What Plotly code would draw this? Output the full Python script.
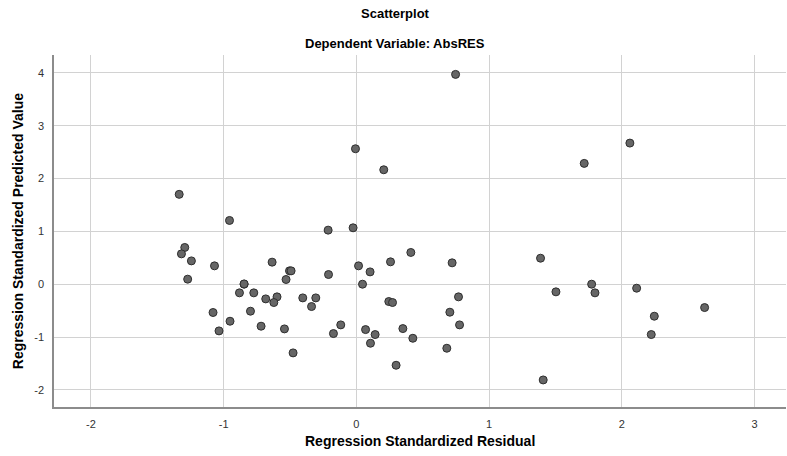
import plotly.graph_objects as go

# Regression Standardized Residual (x) and Regression Standardized Predicted Value (y)
residual = [
    -1.335, -0.956, -1.293, -1.318, -1.243, -1.271, -1.069, -0.846, -0.846, -0.881,
    -0.773, -0.635, -0.504, -0.492, -0.530, -0.683, -0.598, -0.622, -0.798, -1.080,
    -0.952, -1.035, -0.718, -0.542, -0.477, -0.213, -0.025, -0.404, -0.306, -0.338,
    -0.210, -0.118, -0.173, 0.016, 0.103, 0.046, 0.257, 0.410, 0.244, 0.272,
    0.069, 0.141, 0.106, 0.350, 0.425, 0.299, 0.721, 0.769, 0.704, 0.777,
    0.681, 1.387, 1.407, 0.747, -0.007, 0.206, 1.716, 2.060, 1.503, 1.772,
    1.797, 2.111, 2.623, 2.244, 2.221,
]
predicted = [
    1.700, 1.206, 0.695, 0.574, 0.441, 0.095, 0.347, 0.000, 0.005, -0.164,
    -0.164, 0.417, 0.252, 0.252, 0.089, -0.278, -0.240, -0.347, -0.511, -0.536,
    -0.701, -0.884, -0.795, -0.846, -1.300, 1.023, 1.067, -0.259, -0.259, -0.423,
    0.183, -0.770, -0.934, 0.347, 0.233, 0.000, 0.423, 0.600, -0.328, -0.347,
    -0.859, -0.953, -1.117, -0.840, -1.023, -1.534, 0.404, -0.240, -0.530, -0.770,
    -1.212, 0.492, -1.812, 3.970, 2.563, 2.165, 2.286, 2.670, -0.145, 0.000,
    -0.164, -0.076, -0.442, -0.606, -0.953,
]
x_ticks = [-2, -1, 0, 1, 2, 3]
x_tick_labels = ["-2", "-1", "0", "1", "2", "3"]
y_ticks = [-2, -1, 0, 1, 2, 3, 4]
y_tick_labels = ["-2", "-1", "0", "1", "2", "3", "4"]

FONT = "Arial, Liberation Sans, sans-serif"

fig = go.Figure()
fig.add_trace(go.Scatter(
    x=residual, y=predicted, mode="markers",
    marker=dict(size=8, color="#666666", line=dict(color="#2e2e2e", width=1)),
    showlegend=False, hoverinfo="x+y",
))

axis_common = dict(
    showgrid=True, gridcolor="#d2d2d2", gridwidth=1,
    zeroline=False, showline=True, linecolor="#8c8c8c", linewidth=1.5,
    ticks="", tickfont=dict(family=FONT, size=11, color="#333333"),
    ticklabelstandoff=6,
)

fig.update_layout(
    width=787, height=456,
    margin=dict(l=54, r=1, t=55, b=49),
    paper_bgcolor="white", plot_bgcolor="white",
    font=dict(family=FONT),
    xaxis=dict(range=[-2.278, 3.236], tickvals=x_ticks, ticktext=x_tick_labels, **axis_common),
    yaxis=dict(range=[-2.324, 4.337], tickvals=y_ticks, ticktext=y_tick_labels, **axis_common),
    annotations=[
        dict(text="<b>Scatterplot</b>", x=0.466, xref="paper", xanchor="center",
             y=1.1165, yref="paper", yanchor="middle", showarrow=False,
             font=dict(family=FONT, size=13, color="black")),
        dict(text="<b>Dependent Variable: AbsRES</b>", x=0.466, xref="paper", xanchor="center",
             y=1.034, yref="paper", yanchor="middle", showarrow=False,
             font=dict(family=FONT, size=13, color="black")),
        dict(text="<b>Regression Standardized Residual</b>", x=0.5, xref="paper", xanchor="center",
             y=-0.0966, yref="paper", yanchor="middle", showarrow=False,
             font=dict(family=FONT, size=14, color="black")),
        dict(text="<b>Regression Standardized Predicted Value</b>", x=-0.049, xref="paper",
             xanchor="center", y=0.5, yref="paper", yanchor="middle", textangle=-90,
             showarrow=False, font=dict(family=FONT, size=14, color="black")),
    ],
)

fig.write_html("out.html",
               config={"displayModeBar": False},
               post_script="document.body.style.margin='0';document.body.style.overflow='hidden';")
